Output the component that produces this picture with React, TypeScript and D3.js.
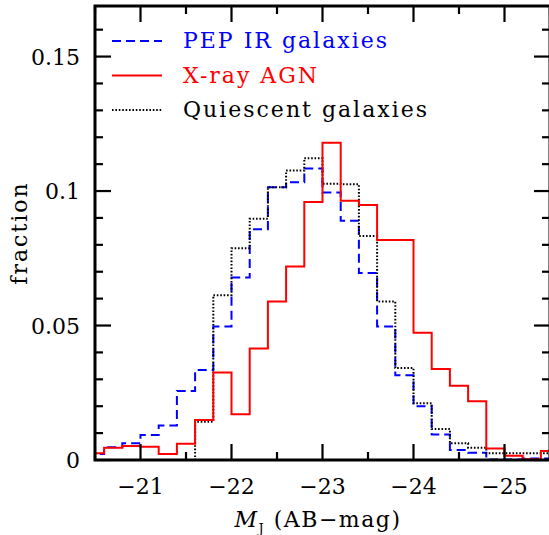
import React from 'react';
import * as d3 from 'd3';

// histogram bin centres (AB mag), bin width 0.2
const binCenters = [
  -20.5, -20.7, -20.9, -21.1, -21.3, -21.5, -21.7, -21.9, -22.1, -22.3, -22.5, -22.7, -22.9,
  -23.1, -23.3, -23.5, -23.7, -23.9, -24.1, -24.3, -24.5, -24.7, -24.9, -25.1, -25.3, -25.5,
];
const binWidth = 0.2;

const pepIR = [
  0.0022, 0.0047, 0.0062, 0.0093, 0.0128, 0.0257, 0.0335, 0.0496, 0.0679, 0.0858, 0.1014, 0.1033, 0.1084,
  0.0995, 0.089, 0.0695, 0.0496, 0.0315, 0.02, 0.0095, 0.0037, 0.0027, 0.0002, 0.0002, 0.0006, 0.0006,
];
const xrayAGN = [
  0.0025, 0.0046, 0.0052, 0.0049, 0.0022, 0.006, 0.0149, 0.0325, 0.017, 0.0415, 0.0589, 0.0719, 0.0959,
  0.118, 0.0964, 0.0948, 0.0818, 0.0818, 0.0473, 0.0338, 0.0276, 0.0218, 0.0043, 0.0016, 0.0003, 0.0033,
];
const quiescent = [
  0, 0, 0, 0, 0, 0, 0.0142, 0.0613, 0.0787, 0.0897, 0.1014, 0.1076, 0.1122,
  0.1027, 0.1025, 0.0833, 0.0589, 0.0342, 0.0211, 0.0115, 0.0062, 0.0046, 0.0025, 0.0025, 0.0025, 0.0025,
];

const xMajor = [-21, -22, -23, -24, -25];
const xMinor = [-20.5, -21.5, -22.5, -23.5, -24.5, -25.5];
const yMajor = [0, 0.05, 0.1, 0.15];
const yMajorLabels = ['0', '0.05', '0.1', '0.15'];
const yMinor = [0.01, 0.02, 0.03, 0.04, 0.06, 0.07, 0.08, 0.09, 0.11, 0.12, 0.13, 0.14, 0.16];

const seriesNames = ['PEP IR galaxies', 'X-ray AGN', 'Quiescent galaxies'];
const seriesColors = ['#0000ff', '#ff0000', '#000000'];
const seriesDash = ['9,5', '', '1.6,1.8'];

const W = 549;
const H = 535;
const left = 95, right = 550, top = 6, bottom = 460;
const FONT = "'DejaVu Serif', serif";

const x = d3.scaleLinear().domain([-20.5, -25.5]).range([left, right]);
const y = d3.scaleLinear().domain([0, 0.1688]).range([bottom, top]);

function stepPath(vals: number[]) {
  const pts: [number, number][] = [];
  vals.forEach((v, i) => {
    const c = binCenters[i];
    pts.push([x(c + binWidth / 2), y(v)]);
    pts.push([x(c - binWidth / 2), y(v)]);
  });
  return d3.line()(pts) || '';
}

export default function App() {
  const series = [pepIR, quiescent, xrayAGN];
  const order = [0, 2, 1];
  const minus = (v: number) => '\u2212' + String(Math.abs(v));

  return (
    <svg width={W} height={H} style={{ position: 'absolute', left: 0, top: 0, background: '#fff' }}
      fontFamily={FONT}>
      <defs>
        <clipPath id="plot">
          <rect x={left} y={top} width={right - left} height={bottom - top} />
        </clipPath>
      </defs>

      <g clipPath="url(#plot)" fill="none">
        {series.map((s, k) => {
          const idx = order[k];
          return (
            <path key={idx} d={stepPath(s)} stroke={seriesColors[idx]} strokeWidth={2}
              strokeDasharray={seriesDash[idx] || undefined} />
          );
        })}
      </g>

      {/* ticks on all four sides */}
      <g stroke="#000" strokeWidth={2.2}>
        {xMajor.map(v => (
          <g key={'xM' + v}>
            <line x1={x(v)} x2={x(v)} y1={bottom} y2={bottom - 16} />
            <line x1={x(v)} x2={x(v)} y1={top} y2={top + 16} />
          </g>
        ))}
        {xMinor.map(v => (
          <g key={'xm' + v}>
            <line x1={x(v)} x2={x(v)} y1={bottom} y2={bottom - 8} />
            <line x1={x(v)} x2={x(v)} y1={top} y2={top + 8} />
          </g>
        ))}
        {yMajor.map(v => (
          <g key={'yM' + v}>
            <line x1={left} x2={left + 16} y1={y(v)} y2={y(v)} />
            <line x1={right} x2={right - 16} y1={y(v)} y2={y(v)} />
          </g>
        ))}
        {yMinor.map(v => (
          <g key={'ym' + v}>
            <line x1={left} x2={left + 8} y1={y(v)} y2={y(v)} />
            <line x1={right} x2={right - 8} y1={y(v)} y2={y(v)} />
          </g>
        ))}
      </g>
      <rect x={left} y={top} width={right - left} height={bottom - top} fill="none" stroke="#000" strokeWidth={3} />

      {/* tick labels */}
      <g fontSize={22} fill="#000">
        {xMajor.map(v => (
          <text key={'xl' + v} x={x(v)} y={494} textAnchor="middle">{minus(v)}</text>
        ))}
        {yMajor.map((v, i) => (
          <text key={'yl' + v} x={80} y={y(v) + 8} textAnchor="end">{yMajorLabels[i]}</text>
        ))}
      </g>

      {/* axis titles */}
      <text x={318} y={527} textAnchor="middle" fontSize={22} letterSpacing={1.5}>
        <tspan fontStyle="italic">M</tspan>
        <tspan fontSize={13} dy={6}>J</tspan>
        <tspan dy={-6}> (AB{'\u2212'}mag)</tspan>
      </text>
      <text transform={`translate(27,233) rotate(-90)`} textAnchor="middle" fontSize={22} letterSpacing={2}>
        fraction
      </text>

      {/* legend */}
      {seriesNames.map((name, i) => {
        const ly = 41 + i * 34.5;
        return (
          <g key={name}>
            <line x1={112} x2={162} y1={ly} y2={ly} stroke={seriesColors[i]} strokeWidth={2}
              strokeDasharray={seriesDash[i] || undefined} />
            <text x={183} y={ly + 7} fontSize={22} letterSpacing={2} fill={seriesColors[i]}>{name}</text>
          </g>
        );
      })}
    </svg>
  );
}
